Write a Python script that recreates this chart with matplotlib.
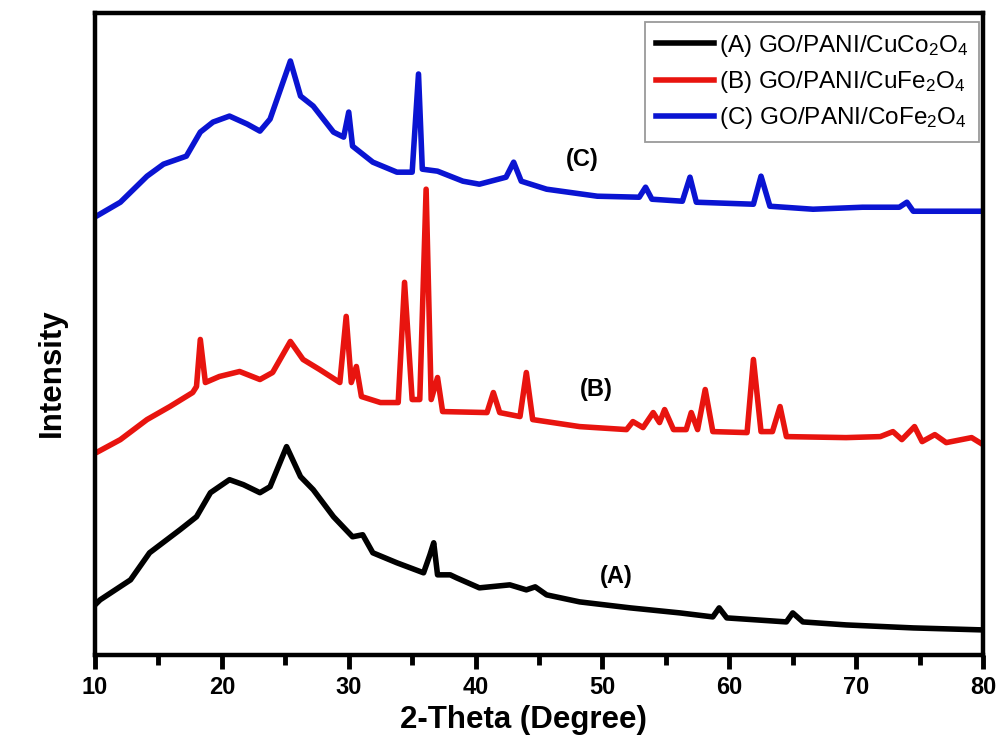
import matplotlib
matplotlib.use("Agg")
import matplotlib.pyplot as plt
from matplotlib.ticker import MultipleLocator, NullLocator

plt.rcParams['font.family'] = ['Liberation Sans', 'DejaVu Sans']
plt.rcParams['mathtext.fontset'] = 'custom'
plt.rcParams['mathtext.rm'] = 'Liberation Sans'
plt.rcParams['mathtext.default'] = 'regular'

# ---- data (2-theta in degrees, intensity in arbitrary units, offset stacked) ----
theta_A = [10.0, 10.4, 12.8, 14.3, 16.7, 18.0, 19.1, 20.6, 21.7, 23.0, 23.8, 25.1, 26.2, 27.2,
           28.8, 30.3, 31.1, 31.9, 33.8, 35.9, 36.4, 36.7, 37.0, 38.0, 38.5, 40.3, 42.7, 44.0,
           44.7, 45.6, 48.2, 52.2, 56.1, 58.7, 59.2, 59.8, 64.5, 65.0, 65.8, 69.2, 74.5, 80.0]
int_A = [50, 55, 75, 102, 125, 138, 162, 175, 170, 162, 168, 208, 178, 165,
         138, 118, 120, 102, 92, 82, 100, 112, 80, 80, 77, 67, 70, 65,
         68, 60, 53, 47, 42, 38, 47, 37, 33, 42, 33, 30, 27, 25]

theta_B = [10.0, 10.1, 12.0, 14.1, 15.9, 17.7, 18.0, 18.3, 18.7, 19.8, 21.4, 23.0, 24.0, 25.4,
           26.4, 27.7, 29.3, 29.8, 30.2, 30.6, 31.0, 32.5, 33.9, 34.4, 35.0, 35.6, 36.1, 36.5,
           37.0, 37.4, 40.9, 41.4, 41.9, 43.5, 44.0, 44.5, 48.2, 51.9, 52.4, 53.2, 54.0, 54.5,
           54.9, 55.6, 56.6, 57.0, 57.5, 58.1, 58.7, 61.4, 61.9, 62.5, 63.4, 64.0, 64.5, 69.2,
           71.9, 72.9, 73.6, 74.6, 75.2, 76.2, 77.1, 79.1, 80.0]
int_B = [202, 202, 215, 235, 248, 262, 268, 315, 272, 278, 283, 275, 282, 313,
         295, 285, 272, 338, 272, 288, 258, 252, 252, 372, 255, 255, 465, 255,
         277, 243, 242, 262, 242, 238, 282, 235, 228, 225, 233, 227, 242, 232,
         245, 225, 225, 242, 225, 265, 223, 222, 295, 223, 223, 248, 218, 217,
         218, 223, 215, 228, 213, 220, 212, 217, 210]

theta_C = [10.0, 10.1, 12.0, 14.1, 15.4, 17.2, 18.3, 19.3, 20.6, 22.0, 23.0, 23.8, 25.4, 26.2,
           27.2, 28.8, 29.6, 30.0, 30.3, 31.9, 33.8, 35.0, 35.5, 35.8, 37.0, 39.0, 40.3, 42.4,
           43.0, 43.6, 45.6, 49.6, 52.9, 53.4, 53.9, 56.3, 56.9, 57.4, 61.9, 62.5, 63.2, 66.6,
           70.5, 73.4, 74.0, 74.5, 80.0]
int_C = [438, 438, 452, 478, 490, 498, 522, 532, 538, 530, 523, 535, 593, 558,
         548, 522, 517, 542, 508, 492, 482, 482, 580, 485, 483, 473, 470, 477,
         492, 473, 465, 458, 457, 467, 455, 453, 477, 452, 450, 478, 448, 445,
         447, 447, 452, 443, 443]

labels = ['(A) GO/PANI/CuCo$_2$O$_4$', '(B) GO/PANI/CuFe$_2$O$_4$', '(C) GO/PANI/CoFe$_2$O$_4$']
curve_tags = ['(A)', '(B)', '(C)']
tag_pos = [(51.05, 78), (49.5, 265), (48.4, 495)]
colors = ['#000000', '#e8140f', '#0a14d2']
x_ticks = [10, 20, 30, 40, 50, 60, 70, 80]

fig = plt.figure(figsize=(9.98, 7.42), dpi=100)
ax = fig.add_axes([0.0952, 0.1173, 0.8898, 0.8653])

lw = 4.0
for th, it, c, lab in zip([theta_A, theta_B, theta_C], [int_A, int_B, int_C], colors, labels):
    ax.plot(th, it, color=c, lw=lw, label=lab, solid_joinstyle='round')

ax.set_xlim(10, 80)
ax.set_ylim(0, 641)
ax.set_xticks(x_ticks)
ax.set_xticklabels([str(t) for t in x_ticks])
ax.xaxis.set_minor_locator(MultipleLocator(5))
ax.yaxis.set_major_locator(NullLocator())
ax.tick_params(axis='x', which='major', direction='out', length=10, width=3.5, labelsize=17, pad=5)
ax.tick_params(axis='x', which='minor', direction='out', length=7, width=3.5)
for lab in ax.get_xticklabels():
    lab.set_fontweight('bold')
for s in ax.spines.values():
    s.set_linewidth(3.2)

ax.set_xlabel('2-Theta (Degree)', fontsize=22.5, fontweight='bold')
ax.xaxis.set_label_coords(0.482, -0.078)
ax.set_ylabel('Intensity', fontsize=22.5, fontweight='bold')
ax.yaxis.set_label_coords(-0.0315, 0.44)

for tag, (tx, ty) in zip(curve_tags, tag_pos):
    ax.text(tx, ty, tag, fontsize=17, fontweight='bold', ha='center', va='center')

leg = ax.legend(loc='upper right', bbox_to_anchor=(0.9955, 0.986), fontsize=17.5,
                frameon=True, fancybox=False, edgecolor='#808080', handlelength=2.4,
                handletextpad=0.2, borderpad=0.45, labelspacing=0.42, borderaxespad=0.0)
leg.get_frame().set_linewidth(1.3)
for ln in leg.get_lines():
    ln.set_linewidth(4)

fig.savefig('out.png', dpi=100)
